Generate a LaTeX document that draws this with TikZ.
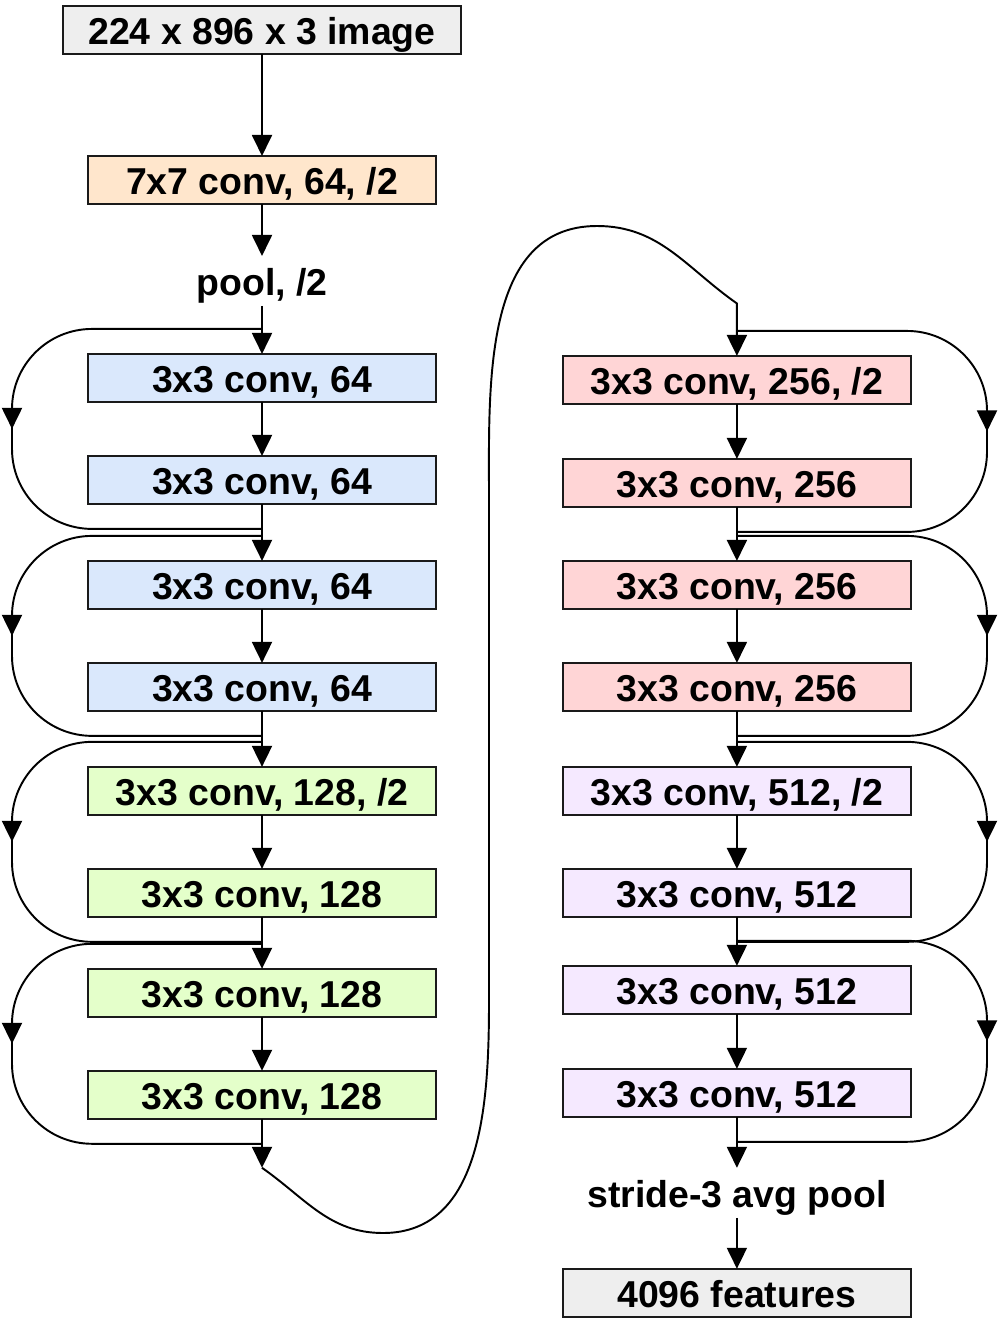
\documentclass[tikz,border=0pt]{standalone}
\usepackage{fontspec}
\setmainfont{Liberation Sans}
\usepackage{tikz}
\usetikzlibrary{positioning,calc,arrows.meta,decorations.markings}
\definecolor{iofill}{HTML}{EEEEEE}
\definecolor{stemfill}{HTML}{FFE6CC}
\definecolor{fill64}{HTML}{DAE8FC}
\definecolor{fill128}{HTML}{E4FFCA}
\definecolor{fill256}{HTML}{FFD5D6}
\definecolor{fill512}{HTML}{F5E9FF}
\definecolor{edge}{HTML}{1A1A1A}

\begin{document}
\begin{tikzpicture}[
  x=0.02cm, y=-0.02cm,
  font=\fontsize{21.3}{25}\selectfont\bfseries,
  blk/.style={rectangle, draw=edge, line width=1.1pt, outer sep=0pt,
              minimum width=6.96cm, minimum height=0.96cm,
              inner sep=0pt, text height=0.6cm, text depth=0pt, align=center},
  iobox/.style={blk, fill=iofill},
  stembox/.style={blk, fill=stemfill},
  c64box/.style={blk, fill=fill64},
  c128box/.style={blk, fill=fill128},
  c256box/.style={blk, fill=fill256},
  c512box/.style={blk, fill=fill512},
  lbl/.style={inner sep=0pt, outer sep=0pt, minimum height=1cm, text height=0.6cm, text depth=0pt},
  >={Triangle[width=0.4cm,length=0.42cm]},
  ar/.style={->, line width=1.1pt, draw=black},
  skip/.style={draw=black, line width=1.1pt, rounded corners=1.6cm, postaction={decorate},
               decoration={markings, mark=at position 0.5 with {\arrow{>}}}}
]
\useasboundingbox (0,0) rectangle (999,1325);

% Stem: input, first conv, pooling
\node[iobox, minimum width=7.96cm] (img) at (262,30) {224 x 896 x 3 image};
\node[stembox, below=2.04cm of img]  (conv1) {7x7 conv, 64, /2};
\node[lbl, below=1.04cm of conv1]    (pool)  {pool, /2};

% Left column: 64 and 128 stages
\node[c64box, below=0.96cm of pool]   (c64a)  {3x3 conv, 64};
\node[c64box, below=1.08cm of c64a]   (c64b)  {3x3 conv, 64};
\node[c64box, below=1.14cm of c64b]   (c64c)  {3x3 conv, 64};
\node[c64box, below=1.08cm of c64c]   (c64d)  {3x3 conv, 64};
\node[c128box, below=1.12cm of c64d]  (c128a) {3x3 conv, 128, /2};
\node[c128box, below=1.08cm of c128a] (c128b) {3x3 conv, 128};
\node[c128box, below=1.04cm of c128b] (c128c) {3x3 conv, 128};
\node[c128box, below=1.08cm of c128c] (c128d) {3x3 conv, 128};
\coordinate[below=0.98cm of c128d] (lend);

% Right column: 256 and 512 stages
\node[c256box, right=2.54cm of c64a, yshift=-0.04cm] (c256a) {3x3 conv, 256, /2};
\node[c256box, below=1.1cm of c256a]  (c256b) {3x3 conv, 256};
\node[c256box, below=1.08cm of c256b] (c256c) {3x3 conv, 256};
\node[c256box, below=1.08cm of c256c] (c256d) {3x3 conv, 256};
\node[c512box, below=1.12cm of c256d] (c512a) {3x3 conv, 512, /2};
\node[c512box, below=1.08cm of c512a] (c512b) {3x3 conv, 512};
\node[c512box, below=0.98cm of c512b] (c512c) {3x3 conv, 512};
\node[c512box, below=1.1cm of c512c]  (c512d) {3x3 conv, 512};
\node[lbl, below=1.02cm of c512d]     (avg)   {stride-3 avg pool};
\node[iobox, below=1.02cm of avg]     (feat)  {4096 features};

% Main flow
\draw[ar] (img) -- (conv1);
\draw[ar] (conv1) -- (pool);
\draw[ar] (pool) -- (c64a);
\draw[ar] (c64a) -- (c64b);
\draw[ar] (c64b) -- (c64c);
\draw[ar] (c64c) -- (c64d);
\draw[ar] (c64d) -- (c128a);
\draw[ar] (c128a) -- (c128b);
\draw[ar] (c128b) -- (c128c);
\draw[ar] (c128c) -- (c128d);
\draw[ar] (c128d) -- (lend);
\draw[ar] (c256a) -- (c256b);
\draw[ar] (c256b) -- (c256c);
\draw[ar] (c256c) -- (c256d);
\draw[ar] (c256d) -- (c512a);
\draw[ar] (c512a) -- (c512b);
\draw[ar] (c512b) -- (c512c);
\draw[ar] (c512c) -- (c512d);
\draw[ar] (c512d) -- (avg);
\draw[ar] (avg) -- (feat);

% Long wrap from the bottom of the left column to the top of the right one
\coordinate (loopbot) at (383,1233);
\coordinate (loopa)   at (489,1000);
\coordinate (loopb)   at (489,500);
\coordinate (looptop) at (597,226);
\coordinate (rin) at ([yshift=1.05cm]c256a.north);
\draw[ar] (lend) to[out=-35,in=180] (loopbot) to[out=0,in=-90] (loopa) -- (loopb)
  to[out=90,in=180] (looptop) to[out=0,in=145] (rin) -- (c256a);

% Shortcut connections, left side
\coordinate (lx) at (12,0);
\coordinate (sL1) at ([yshift=0.5cm]c64a.north);   \coordinate (eL1) at ([yshift=-0.5cm]c64b.south);
\coordinate (sL2) at ([yshift=0.5cm]c64c.north);   \coordinate (eL2) at ([yshift=-0.5cm]c64d.south);
\coordinate (sL3) at ([yshift=0.5cm]c128a.north);  \coordinate (eL3) at ([yshift=-0.5cm]c128b.south);
\coordinate (sL4) at ([yshift=0.5cm]c128c.north);  \coordinate (eL4) at ([yshift=-0.5cm]c128d.south);
\draw[skip] (sL1) -- (sL1 -| lx) -- (eL1 -| lx) -- (eL1);
\draw[skip] (sL2) -- (sL2 -| lx) -- (eL2 -| lx) -- (eL2);
\draw[skip] (sL3) -- (sL3 -| lx) -- (eL3 -| lx) -- (eL3);
\draw[skip] (sL4) -- (sL4 -| lx) -- (eL4 -| lx) -- (eL4);

% Shortcut connections, right side
\coordinate (rx) at (987,0);
\coordinate (sR1) at ([yshift=0.5cm]c256a.north);  \coordinate (eR1) at ([yshift=-0.5cm]c256b.south);
\coordinate (sR2) at ([yshift=0.5cm]c256c.north);  \coordinate (eR2) at ([yshift=-0.5cm]c256d.south);
\coordinate (sR3) at ([yshift=0.5cm]c512a.north);  \coordinate (eR3) at ([yshift=-0.5cm]c512b.south);
\coordinate (sR4) at ([yshift=0.5cm]c512c.north);  \coordinate (eR4) at ([yshift=-0.5cm]c512d.south);
\draw[skip] (sR1) -- (sR1 -| rx) -- (eR1 -| rx) -- (eR1);
\draw[skip] (sR2) -- (sR2 -| rx) -- (eR2 -| rx) -- (eR2);
\draw[skip] (sR3) -- (sR3 -| rx) -- (eR3 -| rx) -- (eR3);
\draw[skip] (sR4) -- (sR4 -| rx) -- (eR4 -| rx) -- (eR4);
\end{tikzpicture}
\end{document}
